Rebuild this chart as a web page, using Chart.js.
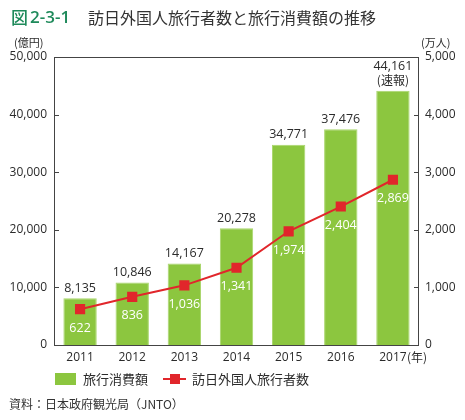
<!DOCTYPE html>
<html><head><meta charset="utf-8">
<script src="https://cdn.jsdelivr.net/npm/chart.js@4/dist/chart.umd.min.js"></script>
<style>body{margin:0;background:#fff}#wrap{width:465px;height:420px}</style>
</head><body><div id="wrap"><canvas id="c" width="465" height="420"></canvas></div>
<script>
const years = ['2011','2012','2013','2014','2015','2016','2017'];
const spending = [8135, 10846, 14167, 20278, 34771, 37476, 44161];
const visitors = [622, 836, 1036, 1341, 1974, 2404, 2869];
const leftTicks = [0, 10000, 20000, 30000, 40000, 50000];
const rightTicks = [0, 1000, 2000, 3000, 4000, 5000];

const FONT = '"Noto Sans CJK JP", "Noto Sans", sans-serif';
const GREEN = '#8cc63f';
const RED = '#e1262b';
const TXT = '#2b2b2b';
const fmt = v => v.toLocaleString('en-US');

const deco = {
  id: 'deco',
  afterDraw(chart) {
    const ctx = chart.ctx, a = chart.chartArea;
    ctx.save();
    // frame
    ctx.strokeStyle = '#444'; ctx.lineWidth = 1;
    ctx.strokeRect(Math.round(a.left) + 0.5, Math.round(a.top) + 0.5, Math.round(a.right - a.left) - 1, Math.round(a.bottom - a.top));
    // inner ticks
    const y = chart.scales.y, y1 = chart.scales.y1;
    leftTicks.forEach(v => {
      const py = Math.round(y.getPixelForValue(v)) + 0.5;
      ctx.beginPath(); ctx.moveTo(a.left, py); ctx.lineTo(a.left + 5, py); ctx.stroke();
    });
    rightTicks.forEach(v => {
      const py = Math.round(y1.getPixelForValue(v)) + 0.5;
      ctx.beginPath(); ctx.moveTo(a.right - 5, py); ctx.lineTo(a.right, py); ctx.stroke();
    });
    // title
    ctx.textBaseline = 'middle'; ctx.textAlign = 'left';
    ctx.fillStyle = '#1f8a5b';
    ctx.font = '500 17px ' + FONT;
    ctx.fillText('図', 11, 18);
    ctx.font = '600 17px "Open Sans", ' + FONT;
    ctx.fillText('2-3-1', 30, 18);
    ctx.fillStyle = '#333';
    ctx.font = '16px ' + FONT;
    ctx.fillText('訪日外国人旅行者数と旅行消費額の推移', 88, 18);
    // units
    ctx.font = '11px ' + FONT; ctx.fillStyle = TXT;
    ctx.textAlign = 'left';
    ctx.fillText('(億円)', 14, 43);
    ctx.fillText('(万人)', 421, 43);
    // (年)
    const xs = chart.scales.x;
    const lx = xs.getPixelForValue(6);
    ctx.font = '12px ' + FONT;
    ctx.fillText('(年)', lx + 14, 357);
    // legend
    ctx.fillStyle = GREEN;
    ctx.fillRect(55, 373, 21, 12);
    ctx.fillStyle = TXT; ctx.font = '13px ' + FONT;
    ctx.fillText('旅行消費額', 83, 379);
    ctx.strokeStyle = RED; ctx.lineWidth = 2;
    ctx.beginPath(); ctx.moveTo(163, 379); ctx.lineTo(186, 379); ctx.stroke();
    ctx.fillStyle = RED; ctx.fillRect(170, 374, 10, 10);
    ctx.fillStyle = TXT;
    ctx.fillText('訪日外国人旅行者数', 192, 379);
    // source
    ctx.font = '12px ' + FONT; ctx.fillStyle = '#333';
    ctx.fillText('資料：日本政府観光局（JNTO）', 9, 404);
    ctx.restore();
  },
  afterDatasetsDraw(chart) {
    const ctx = chart.ctx;
    ctx.save();
    ctx.textAlign = 'center'; ctx.textBaseline = 'middle';
    ctx.font = '12.5px "Open Sans", ' + FONT;
    const bm = chart.getDatasetMeta(0);
    bm.data.forEach((el, i) => {
      ctx.fillStyle = TXT;
      if (i === 6) {
        ctx.fillText(fmt(spending[i]), el.x, el.y - 24);
        ctx.font = '12px ' + FONT;
        ctx.fillText('(速報)', el.x, el.y - 10);
        ctx.font = '12.5px "Open Sans", ' + FONT;
      } else {
        ctx.fillText(fmt(spending[i]), el.x, el.y - 10);
      }
    });
    const lm = chart.getDatasetMeta(1);
    ctx.fillStyle = '#fff';
    lm.data.forEach((el, i) => {
      ctx.fillText(fmt(visitors[i]), el.x, el.y + 19);
    });
    ctx.restore();
  }
};

new Chart(document.getElementById('c'), {
  data: {
    labels: years,
    datasets: [
      { type: 'bar', label: '旅行消費額', data: spending, yAxisID: 'y',
        backgroundColor: GREEN, borderColor: '#a9d66c', borderWidth: 1,
        categoryPercentage: 1, barPercentage: 0.64, order: 2 },
      { type: 'line', label: '訪日外国人旅行者数', data: visitors, yAxisID: 'y1',
        borderColor: RED, borderWidth: 2, backgroundColor: RED,
        pointStyle: 'rect', pointRadius: 7.2, pointBorderWidth: 0, pointBackgroundColor: RED,
        tension: 0, order: 1 }
    ]
  },
  options: {
    responsive: false, animation: false,
    layout: { padding: { left: 0, right: 0, top: 57, bottom: 45 } },
    plugins: { legend: { display: false }, tooltip: { enabled: false } },
    scales: {
      x: {
        grid: { display: false, drawTicks: false }, border: { display: false },
        ticks: { color: TXT, font: { family: '"Open Sans", ' + FONT, size: 12 }, padding: 5, maxRotation: 0 },
        afterFit(s) { s.height = 30; }
      },
      y: {
        position: 'left', min: 0, max: 50000,
        grid: { display: false, drawTicks: false }, border: { display: false },
        ticks: { stepSize: 10000, color: TXT, padding: 7, font: { family: '"Open Sans", ' + FONT, size: 12 }, callback: v => fmt(v) },
        afterFit(s) { s.width = 54; }
      },
      y1: {
        position: 'right', min: 0, max: 5000,
        grid: { display: false, drawTicks: false }, border: { display: false },
        ticks: { stepSize: 1000, color: TXT, padding: 6, font: { family: '"Open Sans", ' + FONT, size: 12 }, callback: v => fmt(v) },
        afterFit(s) { s.width = 46; }
      }
    }
  },
  plugins: [deco]
});
</script></body></html>
